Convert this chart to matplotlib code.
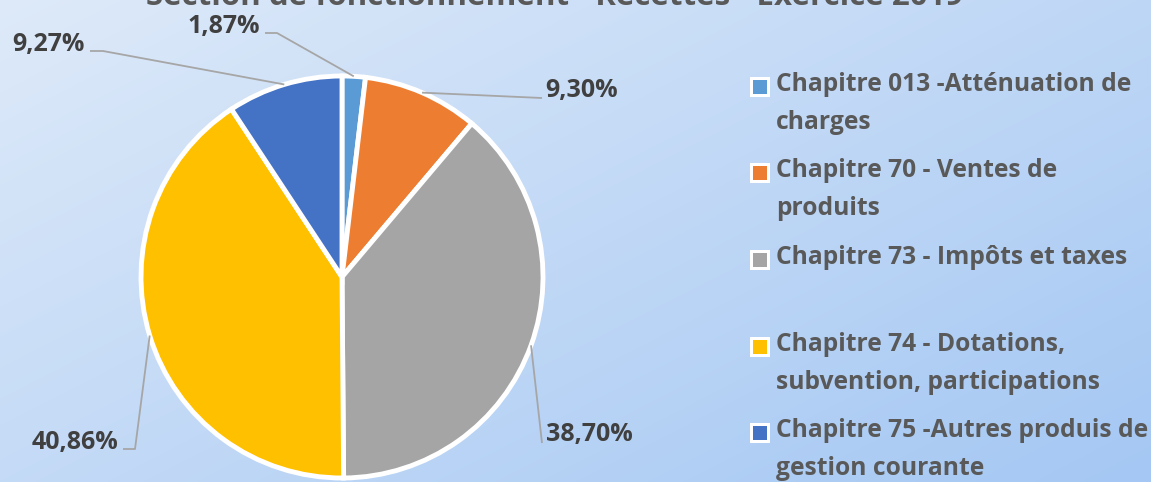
import numpy as np
import matplotlib
matplotlib.use("Agg")
import matplotlib.pyplot as plt
from matplotlib.patches import Rectangle

# ---- data ----
categories = [
    "Chapitre 013 -Atténuation de\ncharges",
    "Chapitre 70 - Ventes de\nproduits",
    "Chapitre 73 - Impôts et taxes",
    "Chapitre 74 - Dotations,\nsubvention, participations",
    "Chapitre 75 -Autres produis de\ngestion courante",
]
values = [1.87, 9.30, 38.70, 40.86, 9.27]
labels = ["1,87%", "9,30%", "38,70%", "40,86%", "9,27%"]
colors = ["#5B9BD5", "#ED7D31", "#A5A5A5", "#FFC000", "#4472C4"]
title = "Section de fonctionnement - Recettes - Exercice 2019"

plt.rcParams['font.family'] = ['Open Sans', 'DejaVu Sans']

W, H = 1151, 482
fig = plt.figure(figsize=(W / 100, H / 100), dpi=100)

# background gradient
bg = fig.add_axes([0, 0, 1, 1], zorder=0)
yy, xx = np.mgrid[0:H, 0:W]
t = (xx / W * 0.55 + yy / H * 0.45)
c0 = np.array([222, 234, 249]) / 255
c1 = np.array([164, 199, 243]) / 255
img = c0[None, None, :] * (1 - t[..., None]) + c1[None, None, :] * t[..., None]
bg.imshow(img, extent=[0, W, H, 0], aspect='auto')
bg.set_xlim(0, W)
bg.set_ylim(H, 0)
bg.axis('off')

# pie geometry (pixels, y from top)
cx, cy, r = 342, 277, 201
pax = fig.add_axes([(cx - r) / W, (H - cy - r) / H, 2 * r / W, 2 * r / H], zorder=1)
pax.pie(values, colors=colors, startangle=90, counterclock=False, radius=1,
        wedgeprops=dict(edgecolor='white', linewidth=3.5))
pax.set_xlim(-1, 1)
pax.set_ylim(-1, 1)
pax.set_aspect('equal')
pax.axis('off')

# overlay for labels / legend
ov = fig.add_axes([0, 0, 1, 1], zorder=2)
ov.set_xlim(0, W)
ov.set_ylim(H, 0)
ov.axis('off')

# title (mostly cut off at top, as in reference)
ov.text(555, 5, title, ha='center', va='baseline', fontsize=22.5,
        fontweight='bold', color='#595959')

# leader lines and labels
cum = np.cumsum([0] + values[:-1])
mids = 90 - (cum + np.array(values) / 2) * 3.6
edge = [(cx + r * np.cos(np.radians(a)), cy - r * np.sin(np.radians(a))) for a in mids]

layout = [
    dict(xy=(260, 26), ha='right', path=[(265, 33), (277, 33)]),
    dict(xy=(545, 90), ha='left', path=[(542, 98)]),
    dict(xy=(546, 435), ha='left', path=[(542, 443)]),
    dict(xy=(118, 443), ha='right', path=[(123, 449), (135, 449)]),
    dict(xy=(85, 45), ha='right', path=[(90, 51), (103, 51)]),
]
lc = '#A6A6A6'
for lab, e, lay in zip(labels, edge, layout):
    pts = lay['path'] + [e]
    xs, ys = zip(*pts)
    ov.plot(xs, ys, color=lc, lw=1.3, solid_capstyle='butt')
    ov.text(lay['xy'][0], lay['xy'][1], lab, ha=lay['ha'], va='center',
            fontsize=18, fontweight='bold', color='#404040')

# legend
leg_y = [87, 173, 260, 347, 433]
for cat, col, y in zip(categories, colors, leg_y):
    ov.add_patch(Rectangle((750, y - 10), 20, 20, facecolor='white', edgecolor='none'))
    ov.add_patch(Rectangle((753, y - 7), 14, 14, facecolor=col, edgecolor='none'))
    ov.text(776, y - 15, cat, ha='left', va='top', fontsize=17.75,
            fontweight='bold', color='#595959', linespacing=1.68)

fig.savefig('out.png', dpi=100)
